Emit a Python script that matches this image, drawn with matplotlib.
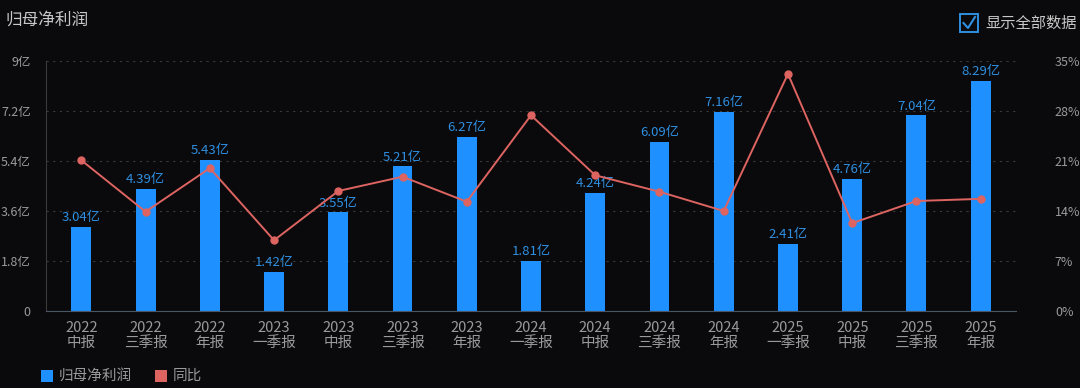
import matplotlib
matplotlib.use("Agg")
import matplotlib.pyplot as plt
from matplotlib.patches import Rectangle
from matplotlib.ticker import FixedLocator

plt.rcParams['font.family'] = ['Noto Sans CJK SC', 'DejaVu Sans']

categories = ["2022\n中报", "2022\n三季报", "2022\n年报", "2023\n一季报", "2023\n中报",
              "2023\n三季报", "2023\n年报", "2024\n一季报", "2024\n中报", "2024\n三季报",
              "2024\n年报", "2025\n一季报", "2025\n中报", "2025\n三季报", "2025\n年报"]
profit = [3.04, 4.39, 5.43, 1.42, 3.55, 5.21, 6.27, 1.81, 4.24, 6.09, 7.16, 2.41, 4.76, 7.04, 8.29]
yoy = [21.1, 13.9, 20.0, 9.9, 16.8, 18.8, 15.3, 27.4, 19.0, 16.7, 14.0, 33.2, 12.3, 15.4, 15.7]
left_ticks = [0, 1.8, 3.6, 5.4, 7.2, 9]
left_labels = ["0", "1.8亿", "3.6亿", "5.4亿", "7.2亿", "9亿"]
right_ticks = [0, 7, 14, 21, 28, 35]
right_labels = ["0%", "7%", "14%", "21%", "28%", "35%"]

BG = "#0a0a0c"
BAR = "#1e90ff"
LINE = "#dd6461"
LBL = "#2f8fe0"
TXT = "#9a9a9a"

fig = plt.figure(figsize=(10.8, 3.88), dpi=100, facecolor=BG)
ax = fig.add_axes([46/1080, 1-311/388, (1016-46)/1080, 250/388])
ax.set_facecolor(BG)
x = list(range(len(categories)))
ax.bar(x, profit, width=0.31, color=BAR, zorder=2)
ax.set_ylim(0, 9)
ax.set_xlim(-0.55, len(categories) - 0.45)
ax.yaxis.set_major_locator(FixedLocator(left_ticks))
ax.set_yticklabels(left_labels)
ax.set_xticks(x)
ax.set_xticklabels(categories, linespacing=1.15)
ax.tick_params(axis='y', length=0, colors=TXT, labelsize=9, pad=11)
ax.tick_params(axis='x', length=0, colors=TXT, labelsize=10.5, pad=7)
for s in ['top', 'right']:
    ax.spines[s].set_visible(False)
ax.spines['left'].set_color("#3a3a3a")
ax.spines['bottom'].set_color("#4a5566")
ax.grid(axis='y', color="#3a3a3a", linestyle=(0, (2, 4)), linewidth=0.8, zorder=0)
ax.set_axisbelow(True)
for xi, v in zip(x, profit):
    ax.text(xi, v + 0.1, f"{v:.2f}亿", ha='center', va='bottom', color=LBL, fontsize=9.5, zorder=4)

ax2 = ax.twinx()
ax2.set_ylim(0, 35)
ax2.plot(x, yoy, color=LINE, linewidth=1.4, marker='o', markersize=5, zorder=3)
ax2.yaxis.set_major_locator(FixedLocator(right_ticks))
ax2.set_yticklabels(right_labels)
ax2.tick_params(axis='y', length=0, colors=TXT, labelsize=9, pad=28)
for s in ['top', 'right', 'left', 'bottom']:
    ax2.spines[s].set_visible(False)

fig.text(5/1080, 1-20/388, "归母净利润", color="#c8c8c8", fontsize=12, va='center', ha='left')

# checkbox
cb = Rectangle((960/1080, 1-32/388), 18/1080, 18/388, transform=fig.transFigure,
               fill=False, edgecolor="#2f8fe0", linewidth=1.4)
fig.patches.append(cb)
fig.lines.append(plt.Line2D([963.5/1080, 968/1080, 975/1080], [1-23/388, 1-28/388, 1-17/388],
                            transform=fig.transFigure, color="#2f8fe0", linewidth=1.5))
fig.text(985/1080, 1-23/388, "显示全部数据", color="#c8c8c8", fontsize=11, va='center', ha='left')

# legend
fig.patches.append(Rectangle((41/1080, 1-382/388), 12/1080, 12/388, transform=fig.transFigure,
                             facecolor=BAR, edgecolor='none'))
fig.text(59/1080, 1-376/388, "归母净利润", color=TXT, fontsize=10.5, va='center', ha='left')
fig.patches.append(Rectangle((155/1080, 1-382/388), 12/1080, 12/388, transform=fig.transFigure,
                             facecolor=LINE, edgecolor='none'))
fig.text(173/1080, 1-376/388, "同比", color=TXT, fontsize=10.5, va='center', ha='left')

fig.savefig("out.png", dpi=100, facecolor=BG)
